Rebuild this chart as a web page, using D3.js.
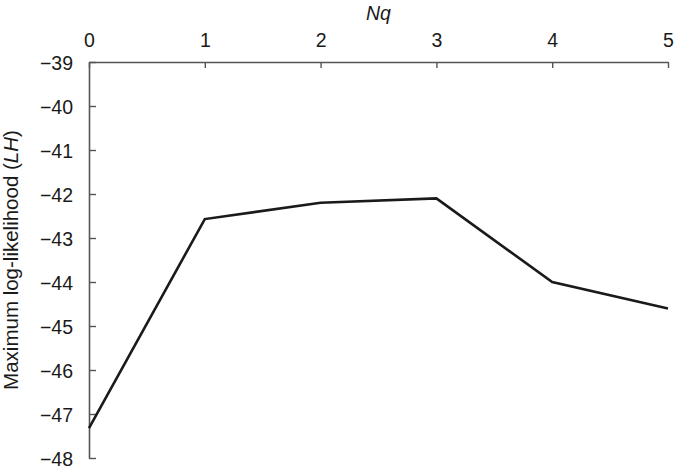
<!DOCTYPE html>
<html><head><meta charset="utf-8">
<script src="https://cdn.jsdelivr.net/npm/d3@7"></script>
<style>body{margin:0;background:#fff}svg{display:block}text{font-family:"Liberation Sans",Arial,Helvetica,sans-serif}</style>
</head><body>
<svg id="c" width="674" height="471"></svg>
<script>
const nq = [0, 1, 2, 3, 4, 5];
const lh = [-47.32, -42.57, -42.2, -42.1, -44.0, -44.6];
const yTicks = [-39, -40, -41, -42, -43, -44, -45, -46, -47, -48];

const svg = d3.select("#c");
const m = {left: 89, top: 62, right: 6, bottom: 13};
const W = 674, H = 471;
const x = d3.scaleLinear().domain([0, 5]).range([m.left, W - m.right]);
const y = d3.scaleLinear().domain([-48, -39]).range([H - m.bottom, m.top]);
const fmt = d => d < 0 ? "\u2212" + Math.abs(d) : String(d);
const axisColor = "#555";

const xa = svg.append("g").attr("transform", `translate(0,${m.top})`)
  .call(d3.axisTop(x).tickValues(nq).tickSizeInner(-6).tickSizeOuter(0).tickPadding(15).tickFormat(fmt));
const ya = svg.append("g").attr("transform", `translate(${m.left},0)`)
  .call(d3.axisLeft(y).tickValues(yTicks).tickSizeInner(-7).tickSizeOuter(0).tickPadding(16).tickFormat(fmt));
[xa, ya].forEach(a => {
  a.select(".domain").attr("stroke", axisColor).attr("stroke-width", 1.6);
  a.selectAll(".tick line").attr("stroke", axisColor).attr("stroke-width", 1.4);
  a.selectAll(".tick text").attr("fill", "#1a1a1a").style("font-size", "19.5px");
});
ya.selectAll(".tick text").attr("dy", "0.36em");

svg.append("path").datum(nq.map((d, i) => [d, lh[i]]))
  .attr("fill", "none").attr("stroke", "#1a1a1a").attr("stroke-width", 2.6)
  .attr("stroke-linejoin", "miter")
  .attr("d", d3.line().x(d => x(d[0])).y(d => y(d[1])));

svg.append("text").attr("x", x(2.5)).attr("y", 20).attr("text-anchor", "middle")
  .style("font-size", "19.5px").style("font-style", "italic").attr("fill", "#1a1a1a").text("Nq");

const yl = svg.append("text").attr("transform", `translate(18,260) rotate(-90)`)
  .attr("text-anchor", "middle").style("font-size", "20.5px").attr("fill", "#1a1a1a");
yl.append("tspan").text("Maximum log-likelihood (");
yl.append("tspan").style("font-style", "italic").text("LH");
yl.append("tspan").text(")");
</script>
</body></html>
